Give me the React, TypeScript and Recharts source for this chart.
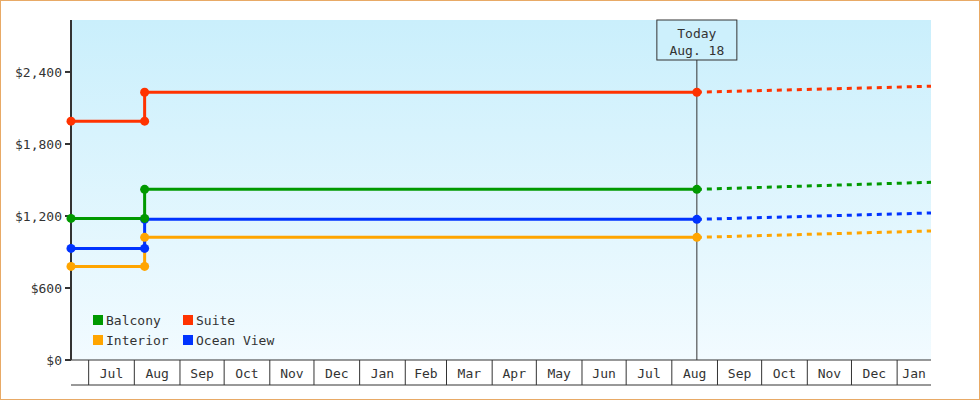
import { LineChart, Line, XAxis, YAxis, ReferenceLine, CartesianGrid, Legend } from "recharts";

// days counted from the first sample (Jun 19, 2012)
const ORIGIN = Date.UTC(2012, 5, 19);
const day = (y: number, m: number, d: number) =>
  Math.round((Date.UTC(y, m - 1, d) - ORIGIN) / 86400000);

const START = day(2012, 6, 19);
const STEP = day(2012, 8, 8);
const TODAY = day(2013, 8, 18);
const END = day(2014, 1, 24);

const MONTH_LABELS = [
  "Jul", "Aug", "Sep", "Oct", "Nov", "Dec", "Jan", "Feb", "Mar", "Apr",
  "May", "Jun", "Jul", "Aug", "Sep", "Oct", "Nov", "Dec", "Jan",
];
const MONTH_STARTS = [
  day(2012, 7, 1), day(2012, 8, 1), day(2012, 9, 1), day(2012, 10, 1),
  day(2012, 11, 1), day(2012, 12, 1), day(2013, 1, 1), day(2013, 2, 1),
  day(2013, 3, 1), day(2013, 4, 1), day(2013, 5, 1), day(2013, 6, 1),
  day(2013, 7, 1), day(2013, 8, 1), day(2013, 9, 1), day(2013, 10, 1),
  day(2013, 11, 1), day(2013, 12, 1), day(2014, 1, 1),
];

const Y_TICKS = [0, 600, 1200, 1800, 2400];

// price before step, price after step (through today), projected price at end
const SERIES = [
  { name: "Interior", color: "#ffa500", before: 780, after: 1022, projected: 1075 },
  { name: "Ocean View", color: "#0033ff", before: 930, after: 1172, projected: 1225 },
  { name: "Balcony", color: "#009900", before: 1180, after: 1422, projected: 1481 },
  { name: "Suite", color: "#ff3300", before: 1990, after: 2231, projected: 2281 },
];

const LEGEND_ORDER = ["Balcony", "Suite", "Interior", "Ocean View"];

const FONT = "'DejaVu Sans Mono', monospace";

const midpoints = MONTH_STARTS.map((s, i) => {
  const next = i + 1 < MONTH_STARTS.length ? MONTH_STARTS[i + 1] : END;
  return (s + Math.min(next, END)) / 2;
});
const labelAt: Record<number, string> = {};
midpoints.forEach((m, i) => (labelAt[m] = MONTH_LABELS[i]));
const boundarySet = new Set(MONTH_STARTS);

const MonthTick = (props: any) => {
  const { x, y, payload } = props;
  if (boundarySet.has(payload.value)) {
    return <line x1={x} x2={x} y1={y} y2={y + 25} stroke="#333" strokeWidth={1} />;
  }
  return (
    <text x={x} y={y + 13} textAnchor="middle" dominantBaseline="central"
      fill="#333" fontSize={13} fontFamily={FONT}>
      {labelAt[payload.value]}
    </text>
  );
};

const Dot = (props: any) => {
  const { cx, cy, stroke } = props;
  return <circle cx={cx} cy={cy} r={4.5} fill={stroke} stroke="none" />;
};

const TodayLabel = (props: any) => {
  const { viewBox } = props;
  const x = viewBox.x;
  const y = viewBox.y;
  return (
    <g>
      <rect x={x - 40} y={y} width={80} height={40} fill="#cdf0fc" stroke="#333" strokeWidth={1} />
      <text x={x} y={y + 13} textAnchor="middle" dominantBaseline="central"
        fill="#333" fontSize={13} fontFamily={FONT}>Today</text>
      <text x={x} y={y + 30} textAnchor="middle" dominantBaseline="central"
        fill="#333" fontSize={13} fontFamily={FONT}>Aug. 18</text>
    </g>
  );
};

const LegendBox = () => (
  <div style={{ display: "grid", gridTemplateColumns: "90px 110px", rowGap: 6, fontFamily: FONT, fontSize: 13, color: "#333" }}>
    {LEGEND_ORDER.map((n) => {
      const s = SERIES.find((d) => d.name === n)!;
      return (
        <div key={n} style={{ display: "flex", alignItems: "center", height: 14 }}>
          <span style={{ width: 10, height: 10, background: s.color, marginRight: 3 }} />
          {n}
        </div>
      );
    })}
  </div>
);

export default function App() {
  const ticks = [...MONTH_STARTS, ...midpoints].sort((a, b) => a - b);
  return (
    <div style={{ position: "absolute", left: 0, top: 0, width: 980, height: 400, background: "#fff" }}>
      <LineChart width={980} height={400} margin={{ top: 20, right: 49, left: 0, bottom: 0 }}>
        <defs>
          <linearGradient id="bg" x1="0" y1="0" x2="0" y2="1">
            <stop offset="0%" stopColor="#caeffc" />
            <stop offset="100%" stopColor="#f2fbff" />
          </linearGradient>
        </defs>
        <CartesianGrid xAxisId="a" horizontal={false} vertical={false} fill="url(#bg)" />
        <XAxis xAxisId="a" dataKey="x" type="number" domain={[START, END]}
          ticks={ticks} interval={0} tick={<MonthTick />} tickLine={false} tickSize={0} tickMargin={0}
          height={25} axisLine={{ stroke: "#333" }} />
        <XAxis xAxisId="b" type="number" domain={[START, END]}
          tick={false} tickLine={false} height={15} axisLine={{ stroke: "#333" }} />
        <YAxis type="number" domain={[0, 2833]} ticks={Y_TICKS} width={71} interval={0}
          tickFormatter={(v: number) => "$" + v.toLocaleString("en-US")}
          tick={{ fill: "#333", fontSize: 13, fontFamily: FONT }}
          tickSize={6} tickMargin={3}
          tickLine={{ stroke: "#333", strokeWidth: 2 }}
          axisLine={{ stroke: "#333", strokeWidth: 2 }} />
        <ReferenceLine xAxisId="a" x={TODAY} stroke="#333" strokeWidth={1} label={<TodayLabel />} />
        {SERIES.map((s) => (
          <Line key={s.name + "-p"} xAxisId="a" dataKey="v" type="linear" legendType="none"
            data={[{ x: TODAY, v: s.after }, { x: END, v: s.projected }]}
            stroke={s.color} strokeWidth={3} strokeDasharray="5 5" dot={false}
            isAnimationActive={false} />
        ))}
        {SERIES.map((s) => (
          <Line key={s.name} xAxisId="a" dataKey="v" type="linear" name={s.name}
            data={[
              { x: START, v: s.before },
              { x: STEP, v: s.before },
              { x: STEP, v: s.after },
              { x: TODAY, v: s.after },
            ]}
            stroke={s.color} strokeWidth={3} dot={<Dot />} activeDot={false}
            isAnimationActive={false} />
        ))}
        <Legend layout="horizontal" verticalAlign="middle" content={<LegendBox />}
          wrapperStyle={{ left: 93, top: 313, width: 220, height: 40 }} />
      </LineChart>
      <div style={{ position: "absolute", inset: 0, border: "1px solid #e8aa66", boxSizing: "border-box", pointerEvents: "none" }} />
    </div>
  );
}
